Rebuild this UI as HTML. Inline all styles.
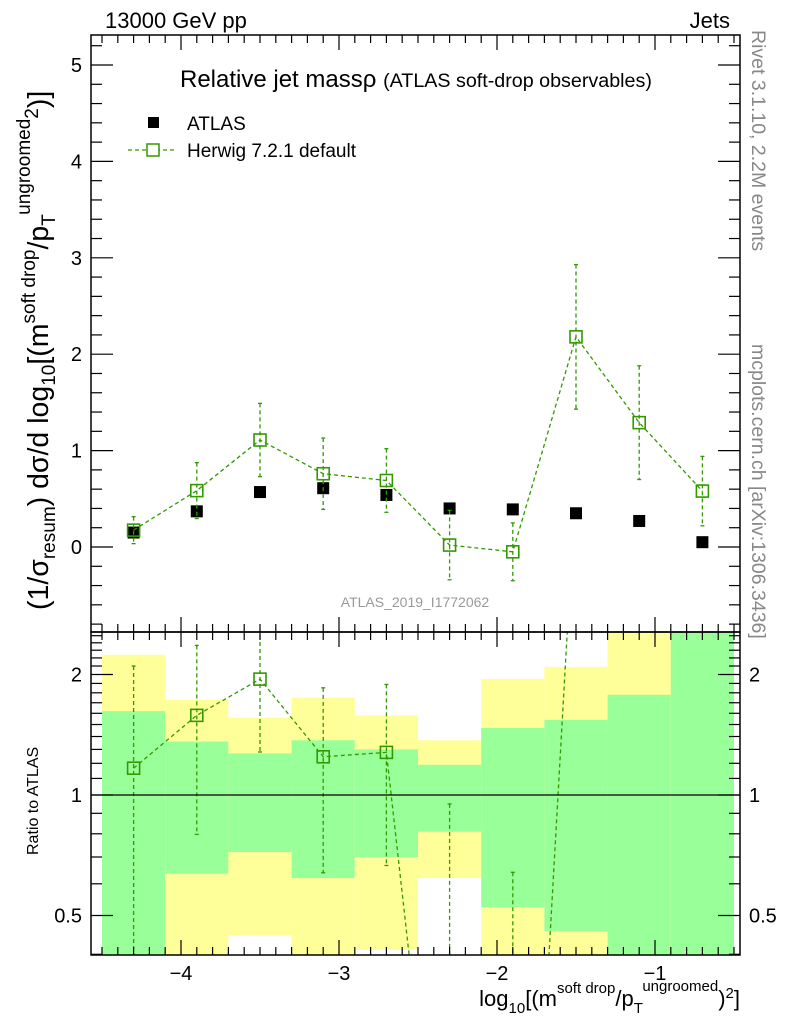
<!DOCTYPE html>
<html><head><meta charset="utf-8"><style>
html,body{margin:0;padding:0;background:#fff;overflow:hidden}
svg{display:block;font-family:"Liberation Sans",sans-serif}
</style></head><body>
<svg id="c" width="786" height="1024" viewBox="0 0 786 1024">
<defs>
<clipPath id="cm"><rect x="91" y="35" width="649" height="597"/></clipPath>
<clipPath id="cr"><rect x="91" y="632" width="649" height="323"/></clipPath>
</defs>
<g id="bands" clip-path="url(#cr)"></g>
<g id="marks"></g>
<g id="axes"></g>
<text x="105" y="28" font-size="22">13000 GeV pp</text>
<text x="730" y="28" font-size="22" text-anchor="end">Jets</text>
<text x="180" y="87" font-size="24">Relative jet massρ <tspan font-size="19.7">(ATLAS soft-drop observables)</tspan></text>
<rect x="148" y="117" width="11" height="11" fill="#000"/>
<text x="187" y="130" font-size="19">ATLAS</text>
<line x1="128" y1="150" x2="175" y2="150" stroke="#339900" stroke-width="1.3" stroke-dasharray="4,3"/>
<rect x="147" y="144" width="12" height="12" fill="#fff" stroke="#339900" stroke-width="1.5"/>
<text x="187" y="157" font-size="19">Herwig 7.2.1 default</text>
<text x="415" y="607" font-size="14" fill="#999" text-anchor="middle">ATLAS_2019_I1772062</text>
<text transform="translate(752,30) rotate(90)" font-size="19.5" fill="#888">Rivet 3.1.10,  2.2M events</text>
<text transform="translate(752,344) rotate(90)" font-size="19.5" fill="#888">mcplots.cern.ch [arXiv:1306.3436]</text>
<text transform="translate(48,610) rotate(-90)" font-size="28.5">(1/σ<tspan font-size="19" dy="7">resum</tspan><tspan dy="-7">) dσ/d log</tspan><tspan font-size="19" dy="7">10</tspan><tspan dy="-7">[(m</tspan><tspan font-size="19" dy="-13">soft drop</tspan><tspan dy="13">/p</tspan><tspan font-size="19" dy="7">T</tspan><tspan font-size="19" dy="-25">ungroomed</tspan><tspan font-size="19" dy="8">2</tspan><tspan dy="10">)]</tspan></text>
<text transform="translate(38,855) rotate(-90)" font-size="16">Ratio to ATLAS</text>
<text x="740" y="1006" font-size="22" text-anchor="end">log<tspan font-size="15" dy="7">10</tspan><tspan dy="-7">[(m</tspan><tspan font-size="15" dy="-13">soft drop</tspan><tspan dy="13">/p</tspan><tspan font-size="15" dy="7">T</tspan><tspan font-size="15" dy="-22">ungroomed</tspan><tspan dy="15">)</tspan><tspan font-size="15" dy="-8">2</tspan><tspan dy="8">]</tspan></text>
</svg>
<script>
const binLo=[-4.5,-4.1,-3.7,-3.3,-2.9,-2.5,-2.1,-1.7,-1.3,-0.9];
const binHi=[-4.1,-3.7,-3.3,-2.9,-2.5,-2.1,-1.7,-1.3,-0.9,-0.5];
const xCenters=[-4.3,-3.9,-3.5,-3.1,-2.7,-2.3,-1.9,-1.5,-1.1,-0.7];
const atlasVals=[0.15,0.37,0.57,0.61,0.54,0.40,0.39,0.35,0.27,0.05];
const herwigVals=[0.175,0.585,1.11,0.76,0.69,0.02,-0.05,2.18,1.29,0.58];
const herwigErrs=[0.14,0.29,0.38,0.37,0.33,0.36,0.30,0.75,0.59,0.36];
const yellowUp=[2.24,1.73,1.56,1.75,1.58,1.37,1.95,2.09,3,3];
const yellowLo=[0.3,0.3,0.446,0.3,0.41,0.62,0.3,0.3,0.3,0.3];
const greenUp=[1.62,1.36,1.27,1.37,1.30,1.19,1.47,1.54,1.78,3];
const greenLo=[0.3,0.636,0.72,0.62,0.70,0.81,0.525,0.457,0.3,0.3];
const mainTicks=[0,1,2,3,4,5];
const ratioTicks=[0.5,1,2];
const xTicks=[-4,-3,-2,-1];

const NS="http://www.w3.org/2000/svg";
const X=v=>181+(v+4)*158;
const Y=v=>547-v*96.4;
const R=v=>795-Math.log2(v)*120.5;
function mk(tag,attrs,parent){const e=document.createElementNS(NS,tag);for(const k in attrs)e.setAttribute(k,attrs[k]);parent.appendChild(e);return e;}
const bands=document.getElementById('bands'),marks=document.getElementById('marks'),axes=document.getElementById('axes');

for(let i=0;i<binLo.length;i++){
  const y=mk('rect',{x:X(binLo[i]),y:R(yellowUp[i]),width:X(binHi[i])-X(binLo[i]),height:R(yellowLo[i])-R(yellowUp[i]),fill:'#ffff99'},bands);
  
  
  const g=mk('rect',{x:X(binLo[i]),y:R(greenUp[i]),width:X(binHi[i])-X(binLo[i]),height:R(greenLo[i])-R(greenUp[i]),fill:'#99ff99'},bands);
  
  
}
const one=mk('line',{x1:91,x2:740,y1:R(1),y2:R(1),stroke:'#000','stroke-width':1.3},axes);



const gm=mk('g',{'clip-path':'url(#cm)'},marks);
const gr=mk('g',{'clip-path':'url(#cr)'},marks);
const green='#339900';
for(let i=0;i<xCenters.length;i++){
  const a=mk('rect',{x:X(xCenters[i])-6,y:Y(atlasVals[i])-6,width:12,height:12,fill:'#000'},gm);
  
  
}
let pts=xCenters.map((c,i)=>X(c)+','+Y(herwigVals[i])).join(' ');
const pl=mk('polyline',{points:pts,fill:'none',stroke:green,'stroke-width':1.3,'stroke-dasharray':'4,3'},gm);


for(let i=0;i<xCenters.length;i++){
  const x=X(xCenters[i]);
  const e=mk('line',{x1:x,x2:x,y1:Y(herwigVals[i]+herwigErrs[i]),y2:Y(herwigVals[i]-herwigErrs[i]),stroke:green,'stroke-width':1.3,'stroke-dasharray':'4,3'},gm);
  
  
  [herwigVals[i]+herwigErrs[i],herwigVals[i]-herwigErrs[i]].forEach(v=>mk('line',{x1:x-2,x2:x+2,y1:Y(v),y2:Y(v),stroke:green,'stroke-width':1.3},gm));
  const m=mk('rect',{x:x-6,y:Y(herwigVals[i])-6,width:12,height:12,fill:'none',stroke:green,'stroke-width':1.6},gm);
  
  
}
const rat=herwigVals.map((h,i)=>h/atlasVals[i]);
const rclamp=v=>v<=0.01?R(0.01):R(v);
pts=xCenters.map((c,i)=>X(c)+','+rclamp(rat[i])).join(' ');
const rl=mk('polyline',{points:pts,fill:'none',stroke:green,'stroke-width':1.3,'stroke-dasharray':'4,3'},gr);


for(let i=0;i<xCenters.length;i++){
  const x=X(xCenters[i]);
  const up=(herwigVals[i]+herwigErrs[i])/atlasVals[i], lo=(herwigVals[i]-herwigErrs[i])/atlasVals[i];
  const e=mk('line',{x1:x,x2:x,y1:rclamp(up),y2:rclamp(lo),stroke:green,'stroke-width':1.3,'stroke-dasharray':'4,3'},gr);
  
  
  [up,lo].forEach(v=>mk('line',{x1:x-2,x2:x+2,y1:rclamp(v),y2:rclamp(v),stroke:green,'stroke-width':1.3},gr));
  const m=mk('rect',{x:x-6,y:rclamp(rat[i])-6,width:12,height:12,fill:'none',stroke:green,'stroke-width':1.6},gr);
  
  
}
[[35,632],[632,955]].forEach(([t,b],k)=>{
  const f=mk('rect',{x:91,y:t,width:649,height:b-t,fill:'none',stroke:'#000','stroke-width':1.5},axes);
  
  
  for(let v=-4.5;v<=-0.45;v+=0.1){
    const vv=Math.round(v*10)/10, x=X(vv), maj=Number.isInteger(vv);
    const L=maj?15:8;
    mk('line',{x1:x,x2:x,y1:b,y2:b-L,stroke:'#000','stroke-width':1.2},axes);
    mk('line',{x1:x,x2:x,y1:t,y2:t+L,stroke:'#000','stroke-width':1.2},axes);
  }
});
for(let v=-0.8;v<=5.3;v+=0.2){
  const vv=Math.round(v*10)/10,y=Y(vv),maj=Number.isInteger(vv),L=maj?22:11;
  mk('line',{x1:91,x2:91+L,y1:y,y2:y,stroke:'#000','stroke-width':1.2},axes);
  mk('line',{x1:740,x2:740-L,y1:y,y2:y,stroke:'#000','stroke-width':1.2},axes);
}
mainTicks.forEach(v=>{const t=mk('text',{x:82,y:Y(v)+7,'font-size':20,'text-anchor':'end'},axes);t.textContent=v;

});
const rmin=[0.4,0.5,0.6,0.7,0.8,0.9,1,1.1,1.2,1.3,1.4,1.5,1.6,1.7,1.8,1.9,2,2.1,2.2,2.3,2.4,2.5];
rmin.forEach(v=>{const y=R(v),maj=ratioTicks.includes(v),L=maj?22:11;
  mk('line',{x1:91,x2:91+L,y1:y,y2:y,stroke:'#000','stroke-width':1.2},axes);
  mk('line',{x1:740,x2:740-L,y1:y,y2:y,stroke:'#000','stroke-width':1.2},axes);});
ratioTicks.forEach(v=>{
  const t=mk('text',{x:82,y:R(v)+7,'font-size':20,'text-anchor':'end'},axes);t.textContent=v;
  
  
  const t2=mk('text',{x:749,y:R(v)+7,'font-size':20},axes);t2.textContent=v;
  
  
});
xTicks.forEach(v=>{const t=mk('text',{x:X(v),y:980,'font-size':20,'text-anchor':'middle'},axes);t.textContent='−'+Math.abs(v);

});
</script>
</body></html>
